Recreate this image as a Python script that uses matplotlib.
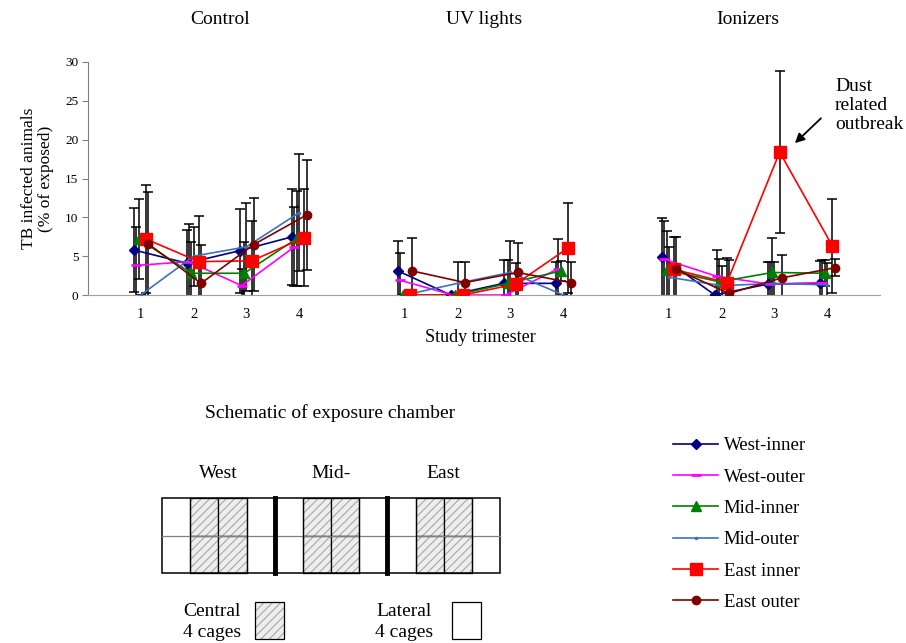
import matplotlib
matplotlib.use("Agg")
import matplotlib.pyplot as plt
from matplotlib.patches import Rectangle

plt.rcParams['font.family'] = ['Liberation Serif', 'DejaVu Serif']
plt.rcParams['hatch.linewidth'] = 0.8

groups = ["Control", "UV lights", "Ionizers"]
trimesters = [1, 2, 3, 4]
tick_labels = ["1", "2", "3", "4"]

series_names = ["West-inner", "West-outer", "Mid-inner", "Mid-outer", "East inner", "East outer"]

# values: Control (4), UV lights (4), Ionizers (4)
west_inner = [5.8, 4.1, 5.7, 7.5,   3.1, 0.0, 1.5, 1.5,   4.9, 0.0, 1.4, 1.5]
west_outer = [3.8, 4.3, 1.2, 6.2,   1.9, 0.0, 0.0, 3.4,   4.6, 2.4, 1.4, 1.6]
mid_inner  = [7.2, 2.8, 2.8, 7.3,   0.0, 0.0, 1.5, 3.1,   3.2, 1.7, 2.9, 2.8]
mid_outer  = [0.0, 5.0, 6.2, 10.6,  0.0, 1.5, 2.9, 0.0,   2.3, 1.2, 1.5, 1.3]
east_inner = [7.2, 4.3, 4.4, 7.4,   0.0, 0.0, 1.4, 6.1,   3.3, 1.6, 18.4, 6.3]
east_outer = [6.6, 1.5, 6.5, 10.3,  3.1, 1.6, 2.9, 1.6,   3.3, 0.2, 2.2, 3.5]

west_inner_err = [5.4, 4.3, 5.4, 6.2,  3.9, 0.0, 3.0, 2.8,  5.0, 0.0, 2.8, 2.9]
west_outer_err = [4.9, 4.9, 2.2, 5.1,  3.5, 0.0, 0.0, 3.8,  4.9, 3.4, 2.8, 2.9]
mid_inner_err  = [5.2, 4.0, 4.0, 6.1,  0.0, 0.0, 3.0, 1.3,  5.0, 2.9, 4.4, 1.7]
mid_outer_err  = [0.0, 3.8, 5.7, 7.5,  0.0, 2.8, 4.0, 0.0,  3.9, 2.5, 2.8, 2.8]
east_inner_err = [6.9, 5.9, 5.1, 6.3,  0.0, 0.0, 2.7, 5.8,  4.2, 3.1, 10.4, 6.0]
east_outer_err = [6.7, 5.0, 6.0, 7.1,  4.2, 2.7, 3.8, 2.7,  4.2, 4.3, 3.0, 1.1]

values = [west_inner, west_outer, mid_inner, mid_outer, east_inner, east_outer]
errors = [west_inner_err, west_outer_err, mid_inner_err, mid_outer_err, east_inner_err, east_outer_err]

colors = ["#000080", "#FF00FF", "#008000", "#3F6FC0", "#FF0000", "#800000"]
markers = ["D", "_", "^", ".", "s", "o"]
msizes = [5.5, 7, 7, 3, 9, 6]
offsets = [-0.13, -0.09, -0.04, 0.0, 0.1, 0.14]

fig = plt.figure(figsize=(9.06, 6.43), dpi=100)
W, H = 906.0, 643.0

ax = fig.add_axes([88 / W, 1 - 295 / H, (880 - 88) / W, (295 - 62) / H])
ax.set_xlim(0, 15)
ax.set_ylim(0, 30)

group_start = [1, 6, 11]
handles = []
for s in range(6):
    for g in range(3):
        xs = [group_start[g] + t + offsets[s] for t in range(4)]
        ys = values[s][g * 4:(g + 1) * 4]
        es = errors[s][g * 4:(g + 1) * 4]
        ax.errorbar(xs, ys, yerr=es, fmt="none", ecolor="black", elinewidth=1.1,
                    capsize=3.5, capthick=1.1, zorder=2)
        ln, = ax.plot(xs, ys, color=colors[s], marker=markers[s], markersize=msizes[s],
                      markeredgewidth=2 if markers[s] == "_" else 1, lw=1.2, zorder=3,
                      label=series_names[s])
        if g == 0:
            handles.append(ln)

xt = []
xl = []
for g in range(3):
    for t in trimesters:
        xt.append(group_start[g] + t - 1)
        xl.append(tick_labels[t - 1])
ax.set_xticks(xt)
ax.set_xticklabels(xl, fontsize=10.5)
ax.tick_params(axis="x", length=0, pad=9)
ax.set_yticks(range(0, 31, 5))
ax.tick_params(axis="y", labelsize=9.5, length=4, color="#808080", pad=3)
for sp in ["top", "right"]:
    ax.spines[sp].set_visible(False)
ax.spines["left"].set_color("#808080")
ax.spines["bottom"].set_color("#a0a0a0")
ax.set_ylabel("TB infected animals\n(% of exposed)", fontsize=12.5, labelpad=8, linespacing=1.1)

for g in range(3):
    fig.text((88 + (group_start[g] + 1.5) * 52.8) / W, 1 - 20 / H, groups[g],
             ha="center", va="center", fontsize=14)
fig.text(480 / W, 1 - 337 / H, "Study trimester", ha="center", va="center", fontsize=13)

ax.annotate("", xy=(13.35, 19.3), xytext=(13.92, 23.0),
            arrowprops=dict(arrowstyle="-|>", color="black", lw=1.3, mutation_scale=14))
ax.text(14.15, 27.9, "Dust\nrelated\noutbreak", ha="left", va="top", fontsize=14,
        linespacing=1.15, clip_on=False)

fig.legend(handles=handles, labels=series_names, loc="upper left",
           bbox_to_anchor=(673 / W, 1 - 437 / H), frameon=False, fontsize=13.5,
           handlelength=2.4, handletextpad=0.3, labelspacing=0.76, borderpad=0,
           borderaxespad=0)

# schematic of the exposure chamber
sk = fig.add_axes([0, 0, 1, 1])
sk.set_xlim(0, W)
sk.set_ylim(H, 0)
sk.axis("off")

x0, x1 = 162, 500
y0, y1 = 498, 573
ym = (y0 + y1) / 2
cw = (x1 - x0) / 12.0
for sec in range(3):
    for c in [1, 2]:
        for (ya, yb) in [(y0, ym), (ym, y1)]:
            xa = x0 + (4 * sec + c) * cw
            sk.add_patch(Rectangle((xa, ya), cw, yb - ya, facecolor="#eeeeee",
                                   edgecolor="#a8a8a8", hatch="////", lw=0))
            sk.add_patch(Rectangle((xa, ya), cw, yb - ya, facecolor="none",
                                   edgecolor="black", lw=0.9))
sk.plot([x0, x1], [ym, ym], color="#808080", lw=0.9)
sk.add_patch(Rectangle((x0, y0), x1 - x0, y1 - y0, facecolor="none", edgecolor="black", lw=1.1))
for sec in range(3):
    for k in [1, 3]:
        xx = x0 + (4 * sec + k) * cw
        sk.plot([xx, xx], [y0, y1], color="black", lw=0.9)
for k in [4, 8]:
    xx = x0 + k * cw
    sk.plot([xx, xx], [y0, y1], color="black", lw=3.5)

sec_names = ["West", "Mid-", "East"]
for sec in range(3):
    sk.text(x0 + (4 * sec + 2) * cw, 473, sec_names[sec], ha="center", va="center", fontsize=14)
sk.text(330, 413, "Schematic of exposure chamber", ha="center", va="center", fontsize=14)

sk.text(212, 622, "Central\n4 cages", ha="center", va="center", fontsize=14, linespacing=1.3)
sk.add_patch(Rectangle((255, 602), 29, 37, facecolor="#eeeeee", edgecolor="#a8a8a8",
                       hatch="////", lw=0))
sk.add_patch(Rectangle((255, 602), 29, 37, facecolor="none", edgecolor="black", lw=0.9))
sk.text(404, 622, "Lateral\n4 cages", ha="center", va="center", fontsize=14, linespacing=1.3)
sk.add_patch(Rectangle((452, 602), 29, 37, facecolor="white", edgecolor="black", lw=0.9))

fig.savefig("out.png", dpi=100)
